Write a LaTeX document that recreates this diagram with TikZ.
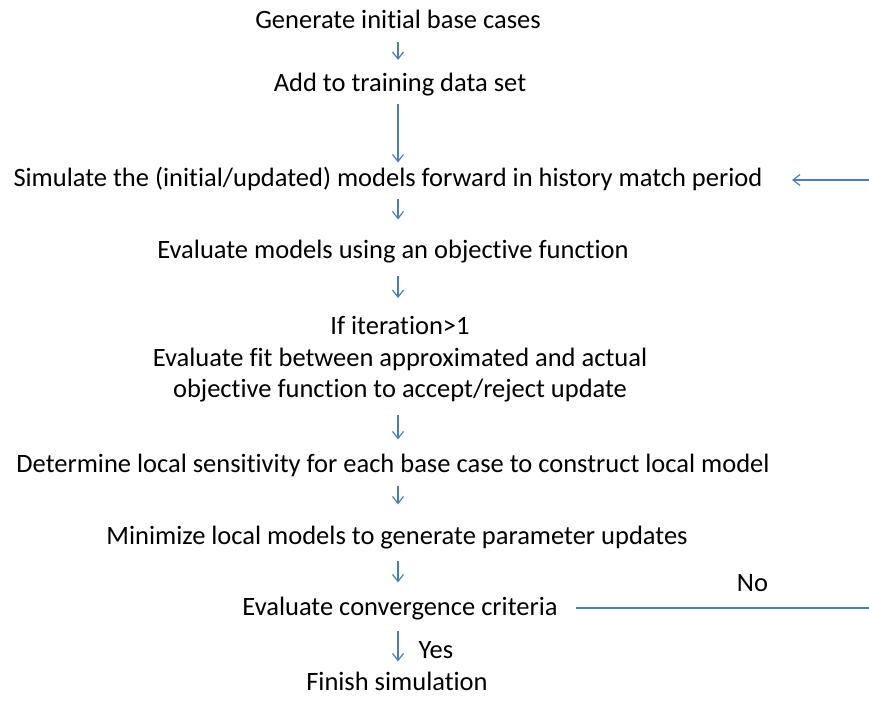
\documentclass[tikz,border=0pt]{standalone}
\usepackage{fontspec}
\setmainfont[Ligatures={NoCommon}]{Carlito}
\usepackage{tikz}
\usetikzlibrary{arrows.meta, positioning}

\definecolor{flowblue}{RGB}{74,126,187}

\begin{document}
\begin{tikzpicture}[->,>={Straight Barb[length=7pt,width=11pt]},x=1pt,y=-1pt,line width=1.2pt]
	\tikzset{every node/.style={font=\fontsize{26.5}{31.5}\selectfont, inner sep=0pt, align=center}}
	\tikzset{step line/.style={text height=19pt, text depth=6pt}}
	\tikzset{every edge/.style={draw=flowblue, line width=1.2pt}}
	\useasboundingbox (0,0) rectangle (869,704);
	\node[step line] (gen) at (398,22) {Generate initial base cases};
	\node[step line] (add) at (400,85) {Add to training data set};
	\node[step line] (sim) at (388,180) {Simulate the (initial/updated) models forward in history match period};
	\node[step line] (eval) at (393,252) {Evaluate models using an objective function};
	\node (fit) at (400,359.5) {If iteration>1\\Evaluate fit between approximated and actual\\objective function to accept/reject update};
	\node[step line] (sens) at (393,466) {Determine local sensitivity for each base case to construct local model};
	\node[step line] (mini) at (397,538) {Minimize local models to generate parameter updates};
	\node[step line] (conv) at (400,609) {Evaluate convergence criteria};
	\node[step line] (fin) at (397,684) {Finish simulation};
	\coordinate (noR) at (869,608);
	\coordinate (backR) at (869,180);
	\path
		(gen.south -| 398,0)
			edge[shorten <=7pt, shorten >=12pt] (add.north -| 398,0)
		(add.south -| 398,0)
			edge[shorten <=5.5pt, shorten >=4.5pt] (sim.north -| 398,0)
		(sim.south -| 398,0)
			edge[shorten <=5.5pt, shorten >=19.5pt] (eval.north -| 398,0)
		(eval.south -| 398,0)
			edge[shorten <=10.5pt, shorten >=18pt] (fit.north -| 398,0)
		(fit.south -| 398,0)
			edge[shorten <=12pt, shorten >=13.5pt] (sens.north -| 398,0)
		(sens.south -| 398,0)
			edge[shorten <=6.5pt, shorten >=20.5pt] (mini.north -| 398,0)
		(mini.south -| 398,0)
			edge[shorten <=9.5pt, shorten >=13.5pt] (conv.north -| 398,0)
		(conv.south -| 398,0)
			edge[shorten <=8.5pt, shorten >=9.5pt] node[right=20pt, yshift=-4pt] {Yes} (fin.north -| 398,0)
		(conv.east |- noR)
			edge[-, shorten <=18pt] node[pos=0.625, above=16pt] {No} (noR)
		(backR)
			edge[shorten >=29pt] (sim.east |- backR);
\end{tikzpicture}
\end{document}
